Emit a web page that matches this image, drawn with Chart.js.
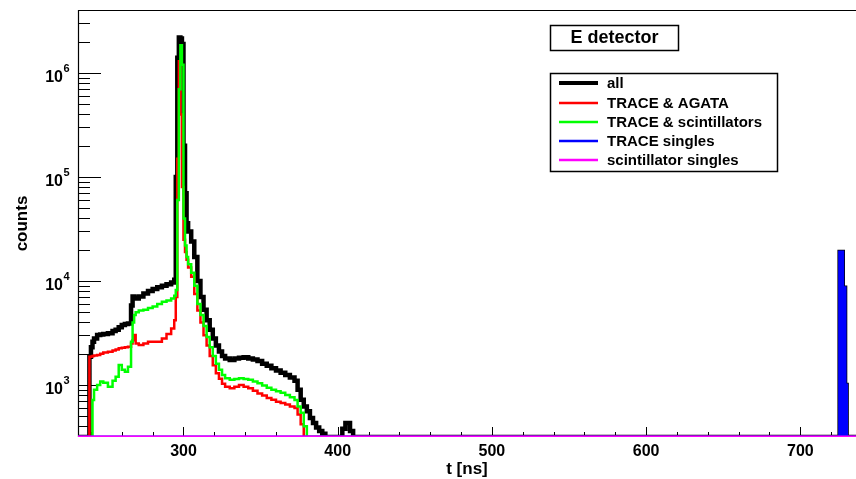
<!DOCTYPE html>
<html>
<head>
<meta charset="utf-8">
<script src="https://cdn.jsdelivr.net/npm/chart.js@4.4.1/dist/chart.umd.min.js"></script>
<style>
  html, body { margin: 0; padding: 0; background: #fff; }
  #wrap { width: 856px; height: 479px; position: relative; }
</style>
</head>
<body>
<div id="wrap"><canvas id="eDetector"></canvas></div>
<script>
// left edges of the histogram bins (ns); each count holds until the next edge
const tBins = [231, 239, 240, 241, 242, 244, 246, 248, 251, 254,
               256, 258, 260, 262, 264, 266, 267, 268, 269, 271,
               274, 277, 280, 283, 286, 289, 292, 294, 295, 296,
               297, 298, 299, 300, 301, 302, 303, 305, 307, 309,
               311, 313, 315, 317, 319, 321, 323, 325, 327, 330,
               333, 336, 339, 342, 345, 348, 351, 354, 357, 360,
               363, 366, 369, 372, 374, 376, 378, 380, 382, 384,
               386, 388, 390, 392, 403, 405, 408, 410, 725.5, 727.5,
               729, 730, 740];

const allCounts = [0, 1870, 2300, 2600, 2800, 3030, 3050, 3100, 3140, 3300,
                   3400, 3600, 3780, 3850, 3900, 5800, 7100, 6900, 6800, 7100,
                   7600, 8000, 8400, 8700, 9000, 9300, 9700, 10300, 100000, 1400000,
                   2200000, 2150000, 1900000, 200000, 70000, 36000, 30000, 24000, 17000, 10000,
                   7000, 5300, 4200, 3400, 2800, 2400, 2100, 1900, 1800, 1740,
                   1800, 1830, 1850, 1800, 1760, 1700, 1600, 1530, 1450, 1380,
                   1310, 1250, 1180, 1100, 900, 720, 620, 560, 480, 430,
                   390, 360, 340, 0, 380, 430, 360, 0, 19000, 8600,
                   1000, 0, 0];

const agataCounts = [0, 1870, 1880, 1900, 1920, 1940, 2000, 2050, 2090, 2150,
                     2200, 2250, 2280, 2300, 2330, 2500, 2700, 3030, 2500, 2420,
                     2500, 2600, 2600, 2600, 2800, 3100, 3500, 4200, 7000, 150000,
                     1300000, 400000, 80000, 25000, 19000, 16000, 13500, 11000, 7500, 5200,
                     4000, 3000, 2400, 1900, 1550, 1300, 1150, 1030, 960, 930,
                     960, 1000, 960, 930, 880, 830, 790, 750, 720, 690,
                     670, 650, 620, 600, 520, 420, 0, 0, 0, 0,
                     0, 0, 0, 0, 0, 0, 0, 0, 0, 0,
                     0, 0, 0];

const scintCounts = [0, 0, 0, 717, 900, 1000, 1080, 1050, 963, 1100,
                     1200, 1560, 1400, 1340, 1500, 2600, 4000, 4700, 5000, 5200,
                     5300, 5500, 5700, 6000, 6300, 6500, 6800, 7200, 8200, 60000,
                     700000, 1850000, 1200000, 40000, 22000, 17000, 14500, 12000, 9000, 6000,
                     4700, 3700, 2900, 2300, 1900, 1600, 1400, 1250, 1160, 1120,
                     1140, 1160, 1140, 1120, 1080, 1040, 990, 940, 900, 870,
                     840, 800, 760, 717, 620, 540, 400, 0, 0, 0,
                     0, 0, 0, 0, 0, 0, 0, 0, 0, 0,
                     0, 0, 0];

const singlesT = [231, 725.5, 727.5, 729, 730, 740];
const singlesCounts = [0, 19000, 8600, 1000, 0, 0];

const scintSinglesT = [231, 740];
const scintSinglesCounts = [0, 0];

const seriesLabels = ["all", "TRACE & AGATA", "TRACE & scintillators", "TRACE singles", "scintillator singles"];
const seriesColors = ["#000000", "#ff0000", "#00ff00", "#0000ff", "#ff00ff"];
const plotTitle = "E detector";

const xTickValues = [300, 400, 500, 600, 700];
const yTickValues = [1e3, 1e4, 1e5, 1e6];
const T_MIN = 231.6, T_MAX = 736.1;
const Y_MIN = 316, Y_MAX = 4.04e6;

const FONT = '"Liberation Sans", Arial, Helvetica, sans-serif';
Chart.defaults.font.family = FONT;
Chart.defaults.color = "#000";

// empty bins sit on the floor of the log axis, as ROOT draws them
function toPoints(ts, cs) {
  return ts.map((t, i) => ({ x: t, y: Math.max(cs[i], Y_MIN) }));
}

const rootFrame = {
  id: "rootFrame",
  beforeDatasetsDraw(chart) {
    const { ctx, chartArea: a, scales } = chart;
    const xs = scales.x, ys = scales.y;
    ctx.save();
    ctx.strokeStyle = "#000";
    ctx.lineWidth = 1.2;
    ctx.beginPath();
    ctx.moveTo(a.left + 0.5, a.bottom);
    ctx.lineTo(a.left + 0.5, a.top + 0.5);
    ctx.lineTo(a.right, a.top + 0.5);
    ctx.moveTo(a.left, a.bottom - 0.5);
    ctx.lineTo(a.right, a.bottom - 0.5);
    ctx.stroke();

    ctx.lineWidth = 1;
    ctx.beginPath();
    for (let e = 2; e <= 6; e++) {
      for (let k = 1; k <= 9; k++) {
        const v = k * Math.pow(10, e);
        if (v < Y_MIN || v > Y_MAX) continue;
        const y = Math.round(ys.getPixelForValue(v)) + 0.5;
        const len = k === 1 ? 23 : 12;
        ctx.moveTo(a.left, y);
        ctx.lineTo(a.left + len, y);
      }
    }
    for (let t = 240; t <= 720; t += 20) {
      const x = Math.round(xs.getPixelForValue(t)) + 0.5;
      const len = t % 100 === 0 ? 10 : 5;
      ctx.moveTo(x, a.bottom);
      ctx.lineTo(x, a.bottom - len);
    }
    ctx.stroke();
    ctx.restore();
  },
  afterDraw(chart) {
    const ctx = chart.ctx;
    const ys = chart.scales.y;
    ctx.save();

    // decade labels 10^n with a raised exponent
    ctx.fillStyle = "#000";
    ctx.textBaseline = "alphabetic";
    yTickValues.forEach(v => {
      const y = ys.getPixelForValue(v);
      const exp = String(Math.round(Math.log10(v)));
      ctx.font = "bold 11px " + FONT;
      ctx.textAlign = "left";
      ctx.fillText(exp, 63.5, y - 1);
      ctx.font = "bold 16px " + FONT;
      ctx.textAlign = "right";
      ctx.fillText("10", 63, y + 9);
    });

    // title box
    ctx.fillStyle = "#fff";
    ctx.strokeStyle = "#000";
    ctx.lineWidth = 1.5;
    ctx.fillRect(550.5, 25.5, 128, 25);
    ctx.strokeRect(550.5, 25.5, 128, 25);
    ctx.fillStyle = "#000";
    ctx.font = "bold 18px " + FONT;
    ctx.textAlign = "center";
    ctx.textBaseline = "middle";
    ctx.fillText(plotTitle, 614.5, 38.5);

    // legend
    ctx.fillStyle = "#fff";
    ctx.fillRect(550.5, 73.5, 227, 98);
    ctx.strokeRect(550.5, 73.5, 227, 98);
    ctx.font = "bold 15px " + FONT;
    ctx.textAlign = "left";
    const rows = [83, 103, 122, 141, 160];
    chart.data.datasets.forEach((ds, i) => {
      const y = rows[i];
      ctx.strokeStyle = ds.borderColor;
      ctx.lineWidth = i === 0 ? 4 : 2.5;
      ctx.beginPath();
      ctx.moveTo(559, y);
      ctx.lineTo(598, y);
      ctx.stroke();
      ctx.fillStyle = "#000";
      ctx.fillText(ds.label, 607, y + 1);
    });
    ctx.restore();
  }
};

const widths = [4.5, 2.5, 2.5, 3, 3];
const sources = [
  [tBins, allCounts],
  [tBins, agataCounts],
  [tBins, scintCounts],
  [singlesT, singlesCounts],
  [scintSinglesT, scintSinglesCounts]
];

new Chart(document.getElementById("eDetector"), {
  type: "line",
  data: {
    datasets: sources.map((s, i) => ({
      label: seriesLabels[i],
      data: toPoints(s[0], s[1]),
      borderColor: seriesColors[i],
      backgroundColor: seriesColors[i],
      borderWidth: widths[i],
      stepped: true,
      pointRadius: 0,
      fill: i === 3 ? "start" : false,
      order: 5 - i
    }))
  },
  options: {
    responsive: true,
    maintainAspectRatio: false,
    animation: false,
    layout: { padding: { left: 0, right: 0, top: 10, bottom: 0 } },
    plugins: {
      legend: { display: false },
      tooltip: { enabled: false }
    },
    scales: {
      x: {
        type: "linear",
        min: T_MIN,
        max: T_MAX,
        grid: { display: false, drawTicks: false },
        border: { display: false },
        afterBuildTicks: (scale) => { scale.ticks = xTickValues.map(v => ({ value: v })); },
        afterFit: (scale) => {
          scale.height = 42;
          scale.paddingLeft = 0;
          scale.paddingRight = 0;
        },
        ticks: {
          padding: 5,
          maxRotation: 0,
          autoSkip: false,
          font: { size: 16, weight: "bold" },
          callback: (v) => String(v)
        },
        title: {
          display: true,
          text: "t [ns]",
          font: { size: 17, weight: "bold", lineHeight: 1 },
          padding: { top: 0, bottom: 1 }
        }
      },
      y: {
        type: "logarithmic",
        min: Y_MIN,
        max: Y_MAX,
        grid: { display: false, drawTicks: false },
        border: { display: false },
        afterBuildTicks: (scale) => { scale.ticks = yTickValues.map(v => ({ value: v })); },
        afterFit: (scale) => {
          scale.width = 78;
          scale.paddingTop = 0;
          scale.paddingBottom = 0;
        },
        ticks: { display: false },
        title: {
          display: true,
          text: "counts",
          font: { size: 17, weight: "bold", lineHeight: 1 },
          padding: { top: 14, bottom: 0 }
        }
      }
    }
  },
  plugins: [rootFrame]
});
</script>
</body>
</html>
